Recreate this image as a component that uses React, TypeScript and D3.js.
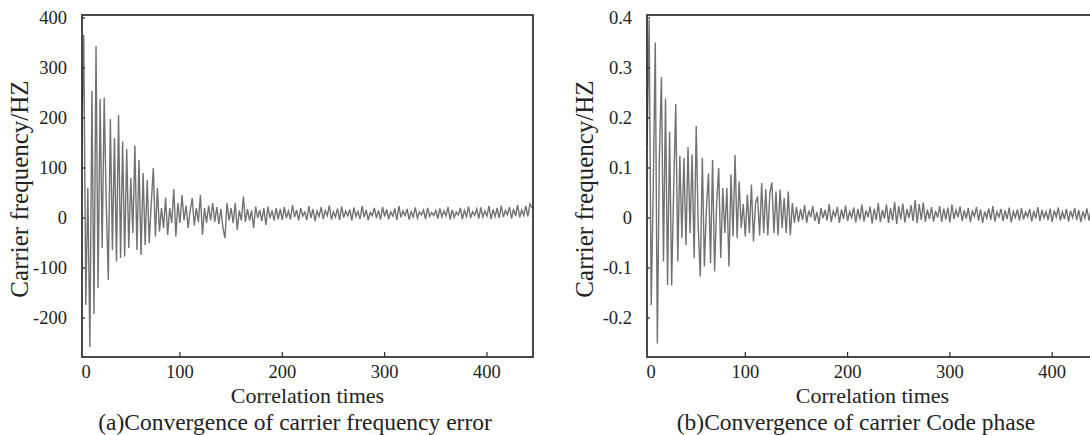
import React from "react";
import * as d3 from "d3";

// x positions: start value and step (Correlation times)
const X_START = 4;
const X_STEP = 2;

// (a) carrier frequency error, Hz
const freqError = [
  145, 366, -174, 60, -258, 254, -192, 344, -140, 238, -60, 241, 30, -124, 198, -64,
  160, -87, 206, -80, 153, -77, 138, -60, 80, -30, 145, -64, 116, -74, 90, -54,
  76, -50, 30, 100, -37, 60, -27, 20, -20, 41, -34, 20, -10, 58, -37, 30,
  -10, 46, -5, 25, -20, 15, 40, -15, 20, -8, 46, -34, 20, -10, 25, -5,
  30, -8, 22, -12, 18, -20, -40, 30, -5, 20, -10, 30, -24, 15, -5, 43,
  -8, 18, -5, 15, -20, 23, 0, 16, -6, 20, -14, 23, 0, 15, -5, 20,
  -2, 18, -4, 22, 0, 14, -3, 26, 2, 16, -5, 20, 4, 12, -4, 24,
  0, 18, -6, 14, 3, 22, -2, 15, 5, 25, -3, 12, 2, 19, -4, 23,
  1, 14, 4, 17, -5, 21, 3, 13, -2, 24, 2, 16, -4, 11, 5, 20,
  0, 15, -3, 22, 3, 17, -2, 12, 4, 19, -4, 24, 1, 14, 5, 18,
  -3, 13, 2, 21, 0, 12, 6, 16, -2, 20, 3, 11, 5, 15, -1, 19,
  2, 14, 4, 22, -3, 16, 1, 12, 6, 20, -2, 15, 3, 23, 0, 13,
  5, 18, -1, 21, 2, 14, 4, 24, -2, 17, 3, 20, 0, 25, 2, 15,
  6, 22, -1, 18, 4, 26, 1, 16, 5, 24, 3, 28, 20
];

// (b) carrier code phase
const codePhase = [
  0.144, 0.397, -0.174, 0.06, 0.351, -0.251, 0.12, 0.282, -0.087, 0.239, -0.134, 0.173, -0.135, 0.06, 0.228, -0.087,
  0.124, -0.04, 0.12, -0.054, 0.142, -0.03, 0.127, -0.08, 0.184, -0.02, -0.117, 0.12, -0.097, 0.02, 0.089, -0.09,
  0.116, -0.107, 0.03, 0.1, -0.08, 0.06, -0.03, 0.06, -0.097, 0.087, -0.037, 0.126, -0.04, 0.073, -0.02, 0.028,
  -0.037, 0.047, -0.03, 0.067, -0.047, 0.03, 0.043, -0.035, 0.07, -0.03, 0.058, -0.035, 0.05, 0.071, -0.03, 0.053,
  -0.035, 0.057, -0.02, 0.04, -0.03, 0.053, -0.035, 0.03, -0.01,
  0.022, -0.008, 0.018, -0.004, 0.026, -0.01, 0.015, 0.002, 0.024, -0.006, 0.012, -0.012, 0.02, 0.0, 0.016, -0.005,
  0.028, -0.008, 0.014, 0.003, 0.022, -0.01, 0.017, -0.002, 0.025, -0.006, 0.013, 0.001, 0.021, -0.009, 0.018, -0.003,
  0.027, -0.007, 0.015, 0.002, 0.023, -0.011, 0.019, -0.004, 0.03, -0.008, 0.016, -0.001, 0.027, -0.01, 0.02, -0.005,
  0.032, -0.012, 0.024, -0.003, 0.029, -0.009, 0.018, 0.0, 0.026, -0.006, 0.036, -0.01, 0.028, -0.004, 0.031, -0.008,
  0.017, -0.002, 0.022, -0.007, 0.014, 0.001, 0.024, -0.008, 0.019, -0.003, 0.021, -0.009, 0.027, -0.002, 0.016, 0.002,
  0.023, -0.006, 0.015, -0.001, 0.02, -0.008, 0.014, 0.003, 0.022, -0.005, 0.017, -0.01, 0.013, 0.0, 0.019, -0.004,
  0.024, -0.007, 0.012, 0.002, 0.018, -0.006, 0.015, -0.002, 0.021, -0.009, 0.013, 0.001, 0.017, -0.005, 0.02, -0.003,
  0.012, 0.002, 0.018, -0.007, 0.014, -0.001, 0.022, -0.006, 0.016, 0.0, 0.013, -0.004, 0.019, -0.008, 0.015, 0.002,
  0.021, -0.005, 0.012, -0.002, 0.018, -0.007, 0.014, 0.001, 0.02, -0.004, 0.016, -0.008, 0.013, 0.0, 0.019, -0.005,
  0.015, -0.002, 0.017, -0.004, 0.012
];

const xTicks = [0, 100, 200, 300, 400];
const freqTicks = [-200, -100, 0, 100, 200, 300, 400];
const phaseTicks = [-0.2, -0.1, 0, 0.1, 0.2, 0.3, 0.4];

const xLabel = "Correlation times";
const yLabel = "Carrier frequency/HZ";
const captionA = "(a)Convergence of carrier frequency error";
const captionB = "(b)Convergence of carrier Code phase";

const FONT = "'Liberation Serif', 'Times New Roman', serif";

type PanelProps = {
  id: string;
  values: number[];
  left: number;
  xDomain: [number, number];
  yDomain: [number, number];
  yTicks: number[];
  caption: string;
  captionX: number;
};

function Panel({ id, values, left, xDomain, yDomain, yTicks, caption, captionX }: PanelProps) {
  const top = 15;
  const w = 451;
  const h = 342;
  const x = d3.scaleLinear().domain(xDomain).range([left, left + w]);
  const y = d3.scaleLinear().domain(yDomain).range([top + h, top]);
  const pts: [number, number][] = values.map((v, i) => [X_START + i * X_STEP, v]);
  const line = d3
    .line<[number, number]>()
    .x((d) => x(d[0]))
    .y((d) => y(d[1]));
  const fmt = (t: number) => (Math.abs(t) < 1 && t !== 0 ? String(Math.round(t * 10) / 10) : String(t));
  const cx = left + w / 2;
  return (
    <g>
      <defs>
        <clipPath id={id}>
          <rect x={left} y={top} width={w} height={h} />
        </clipPath>
      </defs>
      <path d={line(pts) || ""} fill="none" stroke="#727272" strokeWidth={1.4} clipPath={`url(#${id})`} />
      <rect x={left} y={top} width={w} height={h} fill="none" stroke="#2a2a2a" strokeWidth={1.7} />
      {yTicks.map((t) => (
        <g key={"y" + t}>
          <line x1={left} x2={left + 3} y1={y(t)} y2={y(t)} stroke="#2a2a2a" strokeWidth={1.2} />
          <text
            x={left - 15}
            y={y(t)}
            dy="0.34em"
            textAnchor="end"
            fontFamily={FONT}
            fontSize={18.5}
            fill="#222"
          >
            {fmt(t)}
          </text>
        </g>
      ))}
      {xTicks.map((t) => {
        const px = Math.max(x(t), left + 4);
        return (
          <g key={"x" + t}>
            {x(t) > left && (
              <line x1={x(t)} x2={x(t)} y1={top + h} y2={top + h - 5} stroke="#2a2a2a" strokeWidth={1.2} />
            )}
            <text x={px} y={top + h + 21} textAnchor="middle" fontFamily={FONT} fontSize={18.5} fill="#222">
              {t}
            </text>
          </g>
        );
      })}
      <text x={cx} y={403} textAnchor="middle" fontFamily={FONT} fontSize={22} fill="#222">
        {xLabel}
      </text>
      <text x={captionX} y={429.5} textAnchor="middle" fontFamily={FONT} fontSize={23.5} fill="#222">
        {caption}
      </text>
      <text
        transform={`translate(${left - 54},${top + h / 2 + 3}) rotate(-90)`}
        textAnchor="middle"
        fontFamily={FONT}
        fontSize={25}
        fill="#222"
      >
        {yLabel}
      </text>
    </g>
  );
}

export default function App() {
  return (
    <svg
      width={1090}
      height={435}
      style={{ position: "absolute", left: 0, top: 0, background: "#fff" }}
    >
      <rect x={0} y={0} width={1090} height={435} fill="#fff" />
      <Panel
        id="clipA"
        values={freqError}
        left={82}
        xDomain={[4.3, 445]}
        yDomain={[-278, 406]}
        yTicks={freqTicks}
        caption={captionA}
        captionX={295}
      />
      <Panel
        id="clipB"
        values={codePhase}
        left={647}
        xDomain={[3.9, 444.8]}
        yDomain={[-0.278, 0.406]}
        yTicks={phaseTicks}
        caption={captionB}
        captionX={856}
      />
    </svg>
  );
}
